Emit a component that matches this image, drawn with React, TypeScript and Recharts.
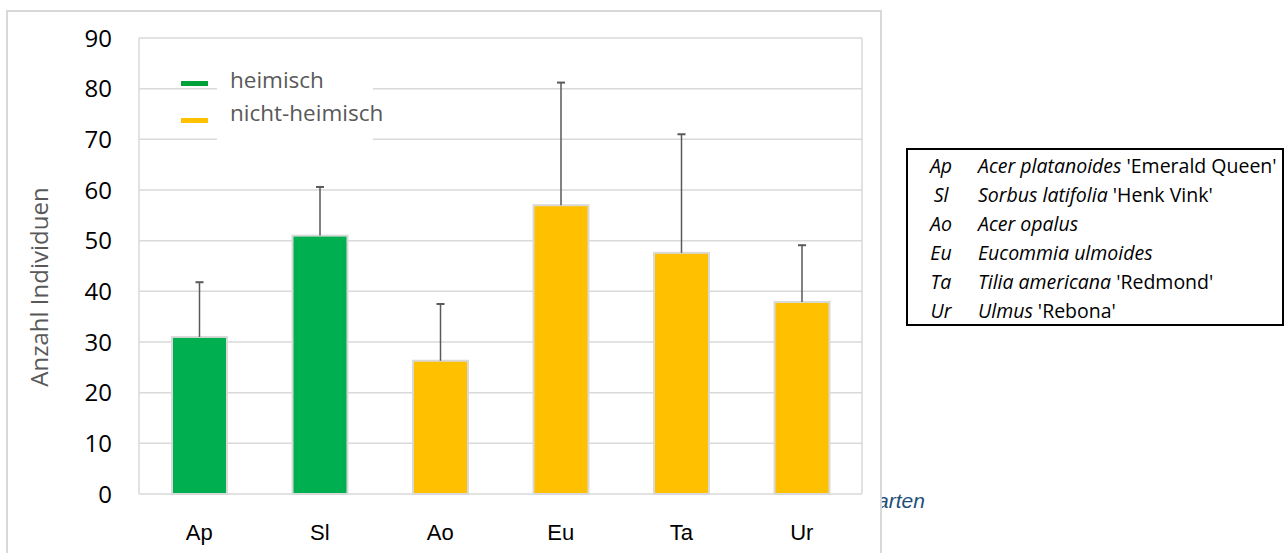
import React from 'react';
import { BarChart, Bar, XAxis, YAxis, CartesianGrid, Cell, Legend } from 'recharts';

const categories = ['Ap', 'Sl', 'Ao', 'Eu', 'Ta', 'Ur'];
const meanValues = [31, 51, 26.3, 57, 47.6, 37.9];
const upperErrors = [10.8, 9.6, 11.2, 24.2, 23.4, 11.2];
const origins = ['heimisch', 'heimisch', 'nicht-heimisch', 'nicht-heimisch', 'nicht-heimisch', 'nicht-heimisch'];
const yTicks = [0, 10, 20, 30, 40, 50, 60, 70, 80, 90];
const legendLabels = ['heimisch', 'nicht-heimisch'];
const speciesAbbr = ['Ap', 'Sl', 'Ao', 'Eu', 'Ta', 'Ur'];
const speciesLatin = ['Acer platanoides', 'Sorbus latifolia', 'Acer opalus', 'Eucommia ulmoides', 'Tilia americana', 'Ulmus'];
const speciesCultivar = ["'Emerald Queen'", "'Henk Vink'", '', '', "'Redmond'", "'Rebona'"];

const COLORS: Record<string, string> = { heimisch: '#00B050', 'nicht-heimisch': '#FFC000' };
const LEGEND_COLORS: Record<string, string> = { heimisch: '#00A03A', 'nicht-heimisch': '#FFC000' };

const data = categories.map((c, i) => ({
  name: c,
  value: meanValues[i],
  err: upperErrors[i],
  origin: origins[i],
}));

const BarWithError = (props: any) => {
  const { x, y, width, height, fill, payload, value } = props;
  const v = Array.isArray(value) ? value[1] - value[0] : value;
  const pxPerUnit = v ? height / v : 0;
  const cx = x + width / 2;
  const top = y - payload.err * pxPerUnit;
  return (
    <g>
      <rect x={x} y={y} width={width} height={height} fill={fill} stroke="#D9D9D9" strokeWidth={2} />
      <line x1={cx} y1={y} x2={cx} y2={top} stroke="#595959" strokeWidth={1.5} />
      <line x1={cx - 4} y1={top} x2={cx + 4} y2={top} stroke="#595959" strokeWidth={2} />
    </g>
  );
};

const LegendContent = () => (
  <div style={{ position: 'relative', width: 200, height: 105 }}>
    <div style={{ position: 'absolute', left: 37, top: 0, width: 156, height: 100, background: '#fff' }} />
    {legendLabels.map((l, i) => (
      <React.Fragment key={l}>
        <div
          style={{
            position: 'absolute',
            left: 1,
            top: 30 + i * 37,
            width: 27,
            height: 5,
            background: LEGEND_COLORS[l],
          }}
        />
        <div
          style={{
            position: 'absolute',
            left: 50,
            top: 14 + i * 33,
            fontFamily: '"Open Sans", sans-serif',
            fontSize: 22.5,
            lineHeight: '30px',
            color: '#595959',
            whiteSpace: 'nowrap',
          }}
        >
          {l}
        </div>
      </React.Fragment>
    ))}
  </div>
);

const YLabel = (props: any) => {
  const { viewBox } = props;
  const cx = 31;
  const cy = viewBox.y + viewBox.height / 2 + 21;
  return (
    <text
      x={cx}
      y={cy}
      transform={`rotate(-90, ${cx}, ${cy})`}
      textAnchor="middle"
      dominantBaseline="central"
      fill="#595959"
      fontFamily='"Open Sans", sans-serif'
      fontSize={24}
    >
      Anzahl Individuen
    </text>
  );
};

export default function App() {
  return (
    <div style={{ position: 'absolute', left: 0, top: 0, width: 1288, height: 553, background: '#fff', overflow: 'hidden' }}>
      <div
        style={{
          position: 'absolute',
          left: 877,
          top: 489,
          width: 80,
          height: 30,
          fontFamily: '"Liberation Sans", Arial, sans-serif',
          fontStyle: 'italic',
          fontSize: 21,
          color: '#1F4E79',
          whiteSpace: 'nowrap',
        }}
      >
        arten
      </div>
      <div
        style={{
          position: 'absolute',
          left: 6,
          top: 10,
          width: 876,
          height: 560,
          boxSizing: 'border-box',
          borderLeft: '2px solid #D9D9D9',
          borderTop: '2px solid #D9D9D9',
          borderRight: '2px solid #D9D9D9',
          background: '#fff',
        }}
      />
      <div style={{ position: 'absolute', left: 7, top: 11 }}>
        <BarChart width={874} height={542} data={data} margin={{ top: 27, right: 19, left: 0, bottom: 0 }} barSize={55}>
          <CartesianGrid
            stroke="#D9D9D9"
            strokeWidth={1.5}
            verticalCoordinatesGenerator={({ offset }: any) => [offset.left, offset.left + offset.width]}
          />
          <XAxis
            dataKey="name"
            height={59}
            axisLine={false}
            tickLine={false}
            tickSize={0}
            tickMargin={30}
            interval={0}
            tick={{ fill: '#000', fontSize: 22, fontFamily: '"Liberation Sans", Arial, sans-serif' }}
          />
          <YAxis
            width={132}
            domain={[0, 90]}
            ticks={yTicks}
            interval={0}
            axisLine={false}
            tickLine={false}
            tickSize={0}
            tickMargin={27}
            tick={{ fill: '#000', fontSize: 24, fontFamily: '"Open Sans", sans-serif' }}
            label={<YLabel />}
          />
          <Legend
            content={<LegendContent />}
            layout="horizontal"
            verticalAlign="middle"
            align="center"
            wrapperStyle={{ top: 40, left: 173, width: 200 }}
          />
          <Bar dataKey="value" isAnimationActive={false} shape={<BarWithError />}>
            {data.map((d) => (
              <Cell key={d.name} fill={COLORS[d.origin]} />
            ))}
          </Bar>
        </BarChart>
      </div>
      <div
        style={{
          position: 'absolute',
          left: 906,
          top: 148,
          width: 378,
          height: 178,
          boxSizing: 'border-box',
          border: '2px solid #000',
          paddingTop: 1,
          fontFamily: '"Open Sans", sans-serif',
          fontSize: 19.5,
          color: '#000',
        }}
      >
        {speciesAbbr.map((a, i) => (
          <div key={a} style={{ position: 'relative', height: 29, lineHeight: '29px', whiteSpace: 'nowrap' }}>
            <span style={{ position: 'absolute', left: 10, width: 46, textAlign: 'center', fontStyle: 'italic' }}>{a}</span>
            <span style={{ position: 'absolute', left: 70 }}>
              <i>{speciesLatin[i]}</i>
              {speciesCultivar[i] ? ' ' + speciesCultivar[i] : ''}
            </span>
          </div>
        ))}
      </div>
    </div>
  );
}
